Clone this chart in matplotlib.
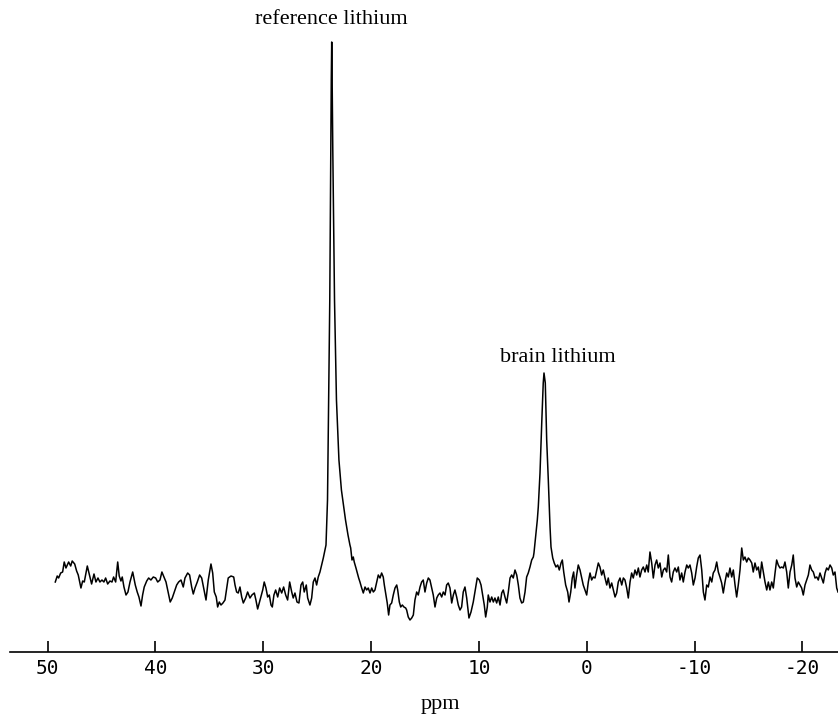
import numpy as np
import matplotlib.pyplot as plt

# chemical shift (ppm) and signal height (arbitrary units) along the spectrum
shift_ppm = [
    49.29, 49.11, 48.98, 48.79, 48.61, 48.46, 48.30, 48.05, 47.86, 47.72,
    47.49, 47.31, 47.16, 46.91, 46.75, 46.60, 46.32, 46.07, 45.92, 45.70,
    45.52, 45.33, 45.15, 44.96, 44.78, 44.62, 44.43, 44.22, 44.03, 43.88,
    43.69, 43.50, 43.36, 43.20, 43.08, 42.92, 42.73, 42.55, 42.36, 42.11,
    41.87, 41.69, 41.53, 41.34, 41.19, 41.04, 40.81, 40.63, 40.42, 40.20,
    39.98, 39.79, 39.58, 39.40, 39.21, 39.02, 38.81, 38.63, 38.44, 38.25,
    38.03, 37.85,
    37.63, 37.42, 37.26, 37.01, 36.83, 36.64, 36.49, 36.33, 36.12, 35.90,
    35.71, 35.53, 35.31, 35.10, 34.85, 34.69, 34.54, 34.36, 34.23, 34.08,
    33.92, 33.74, 33.55, 33.39, 33.25, 32.99, 32.74, 32.62, 32.47, 32.32,
    32.16, 32.00, 31.85, 31.63, 31.45, 31.23, 31.05, 30.83, 30.68, 30.52,
    30.37, 30.21, 30.05, 29.91, 29.75, 29.59, 29.44, 29.28, 29.16, 29.01,
    28.85, 28.66, 28.48, 28.29, 28.11, 27.92, 27.74, 27.55, 27.36, 27.22,
    27.06, 26.87, 26.69, 26.50, 26.34, 26.20, 26.01, 25.88, 25.67, 25.51,
    25.36, 25.20, 25.05, 24.90, 24.74, 24.58, 24.43, 24.28,
    # reference peak
    24.18, 24.04, 23.93, 23.83, 23.74, 23.69, 23.65, 23.61, 23.55, 23.39,
    23.21, 22.98, 22.75, 22.56, 22.37, 22.14, 21.96,
    21.89, 21.77, 21.65, 21.56, 21.40, 21.28, 21.15, 21.03, 20.87, 20.72,
    20.56, 20.41, 20.26, 20.10, 19.94, 19.79, 19.64, 19.48, 19.33, 19.17,
    19.02, 18.87, 18.77, 18.62, 18.50, 18.37, 18.25, 18.09, 17.94, 17.78,
    17.62, 17.53, 17.38, 17.25, 17.10, 16.95, 16.79, 16.70, 16.55, 16.39,
    16.23, 16.08, 15.93, 15.77, 15.62, 15.46, 15.31, 15.16, 15.00, 14.84,
    14.69, 14.54, 14.38, 14.23, 14.07, 13.91, 13.77, 13.61, 13.45, 13.30,
    13.14, 12.99, 12.84,
    12.68, 12.52, 12.37, 12.22, 12.06, 11.91, 11.75, 11.60, 11.45, 11.29,
    11.13, 10.92, 10.73, 10.52, 10.30, 10.15, 9.96, 9.80, 9.65, 9.50,
    9.37, 9.22, 9.13, 8.97, 8.81, 8.66, 8.51, 8.35, 8.20, 8.04,
    7.88, 7.74, 7.58, 7.42, 7.27, 7.11, 6.96, 6.81, 6.65, 6.49,
    6.34, 6.19, 6.03, 5.88, 5.72, 5.57, 5.42, 5.26, 5.10, 4.95,
    # brain peak
    4.89, 4.70, 4.58, 4.49, 4.33, 4.17, 4.03, 3.96, 3.84, 3.71,
    3.56, 3.40, 3.31, 3.15, 3.01, 2.85, 2.69, 2.54, 2.38, 2.26,
    2.13, 1.95, 1.76, 1.64, 1.48, 1.34, 1.21, 1.09, 0.93, 0.78,
    0.62, 0.46, 0.32, 0.16, 0.00, -0.15, -0.31, -0.46, -0.61, -0.77,
    -0.93, -1.08, -1.23, -1.39, -1.54, -1.70, -1.86, -2.00, -2.16, -2.32,
    -2.47, -2.63, -2.78, -2.93, -3.09, -3.25, -3.40, -3.55, -3.71, -3.86,
    -4.02, -4.17, -4.32, -4.48, -4.64, -4.79, -4.94, -5.10, -5.25, -5.41,
    -5.57, -5.71, -5.87, -6.03, -6.18, -6.34, -6.49, -6.64, -6.80, -6.96,
    -7.11, -7.26, -7.42, -7.57, -7.73, -7.88, -8.03, -8.19, -8.35, -8.50,
    -8.65, -8.81, -8.96, -9.12, -9.28, -9.42, -9.58, -9.74, -9.89, -10.05,
    -10.20, -10.35, -10.51, -10.67, -10.82, -10.97, -11.13, -11.28, -11.44, -11.60,
    -11.74, -11.90, -12.06, -12.21, -12.36, -12.52, -12.67, -12.83, -12.99, -13.13,
    -13.29, -13.45, -13.60, -13.76, -13.91, -14.06, -14.22, -14.38, -14.53, -14.68,
    -14.84, -14.99, -15.15, -15.31, -15.45, -15.61, -15.77, -15.92, -16.08, -16.23,
    -16.38, -16.54, -16.70, -16.85, -17.00, -17.16, -17.31, -17.47, -17.62, -17.77,
    -17.93, -18.09, -18.24, -18.39, -18.55, -18.70, -18.86, -19.02, -19.16, -19.32,
    -19.48, -19.63, -19.79, -19.94, -20.09, -20.25, -20.41, -20.56, -20.71, -20.87,
    -21.02, -21.18, -21.34, -21.48, -21.64, -21.80, -21.95, -22.11, -22.26, -22.41,
    -22.57, -22.73, -22.87, -23.03, -23.19, -23.31,
]

signal = [
    70, 76, 74, 79, 80, 90, 84, 90, 86, 91,
    88, 81, 77, 64, 71, 70, 86, 75, 68, 78,
    70, 74, 70, 72, 70, 74, 68, 71, 70, 75,
    70, 90, 76, 71, 75, 65, 57, 60, 70, 80,
    67, 60, 55, 46, 57, 65, 71, 74, 72, 75,
    74, 70, 72, 80, 75, 70, 59, 50, 54, 60,
    67, 70,
    72, 65, 74, 79, 77, 65, 58, 64, 70, 77,
    74, 64, 52, 72, 88, 79, 60, 55, 45, 50,
    47, 49, 52, 64, 74, 76, 75, 67, 60, 59,
    65, 55, 49, 54, 60, 54, 57, 59, 52, 43,
    49, 55, 62, 70, 64, 55, 57, 47, 45, 57,
    62, 55, 64, 59, 65, 57, 52, 70, 60, 54,
    59, 50, 49, 67, 70, 60, 67, 54, 47, 54,
    70, 74, 67, 75, 80, 87, 94, 102,
    107, 152, 252, 352, 502, 572, 610, 572, 502, 352,
    252, 192, 162, 147, 132, 117, 107,
    104, 92, 95, 90, 84, 79, 74, 70, 64, 59,
    65, 62, 64, 59, 64, 60, 62, 70, 77, 74,
    79, 75, 67, 57, 49, 37, 47, 49, 57, 64,
    67, 62, 50, 45, 47, 45, 44, 42, 35, 32,
    34, 37, 52, 60, 57, 65, 70, 72, 60, 69,
    74, 72, 64, 57, 45, 54, 57, 59, 55, 60,
    57, 67, 69,
    64, 49, 57, 62, 55, 47, 42, 45, 60, 65,
    54, 34, 40, 50, 64, 74, 72, 67, 57, 47,
    35, 45, 57, 50, 55, 50, 54, 49, 55, 47,
    59, 62, 55, 49, 60, 74, 77, 74, 82, 77,
    67, 54, 49, 50, 60, 75, 79, 85, 92, 95,
    99, 119, 132, 145, 179, 229, 269, 279, 269, 212,
    172, 125, 105, 94, 89, 85, 87, 82, 89, 92,
    80, 67, 60, 50, 60, 74, 80, 64, 77, 87,
    82, 74, 67, 62, 57, 70, 79, 72, 75, 74,
    82, 89, 85, 77, 82, 74, 67, 74, 64, 69,
    62, 55, 59, 70, 74, 67, 74, 72, 64, 54,
    70, 79, 74, 82, 77, 84, 75, 82, 85, 80,
    87, 80, 100, 89, 74, 87, 92, 84, 89, 75,
    82, 84, 80, 97, 75, 70, 80, 84, 80, 85,
    72, 79, 70, 80, 87, 84, 87, 79, 67, 74,
    85, 94, 97, 82, 60, 52, 67, 65, 75, 70,
    79, 82, 90, 80, 75, 69, 59, 70, 79, 75,
    84, 75, 82, 67, 55, 67, 82, 104, 92, 95,
    90, 94, 92, 89, 80, 89, 82, 85, 74, 90,
    80, 70, 62, 70, 62, 70, 64, 79, 92, 87,
    84, 85, 84, 90, 80, 64, 80, 87, 97, 74,
    65, 70, 67, 64, 57, 67, 72, 77, 87, 82,
    80, 74, 75, 72, 79, 74, 69, 79, 84, 82,
    87, 84, 77, 80, 64, 60,
]

tick_ppm = [50, 40, 30, 20, 10, 0, -10, -20]
tick_text = ["50", "40", "30", "20", "10", "0", "-10", "-20"]

peak_labels = ["reference lithium", "brain lithium"]
peak_label_ppm = [23.65, 2.66]
peak_label_height = [632, 295]

fig = plt.figure(figsize=(8.38, 7.2), dpi=100)
ax = fig.add_axes([10 / 838, 68 / 720, 828 / 838, 652 / 720])

ax.plot(shift_ppm, signal, color="black", lw=1.1, solid_joinstyle="round")

ax.set_xlim(53.49, -23.31)
ax.set_ylim(0, 652)

for side in ["top", "left", "right"]:
    ax.spines[side].set_visible(False)
ax.spines["bottom"].set_linewidth(1.2)

ax.set_yticks([])
ax.set_xticks(tick_ppm)
ax.set_xticklabels(tick_text, family="DejaVu Sans Mono", fontsize=14)
ax.tick_params(axis="x", direction="in", length=8, width=1.2, pad=5)

for name, xp, yp in zip(peak_labels, peak_label_ppm, peak_label_height):
    ax.text(xp, yp, name, ha="center", va="center",
            family="Liberation Serif", fontsize=16)

ax.set_xlabel("ppm", family="Liberation Serif", fontsize=16)
ax.xaxis.set_label_coords(0.52, -0.066)

fig.savefig("out.png", dpi=100)
